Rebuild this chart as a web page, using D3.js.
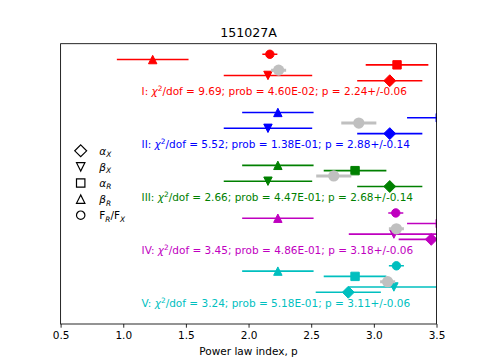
<!DOCTYPE html>
<html>
<head>
<meta charset="utf-8">
<script src="https://cdn.jsdelivr.net/npm/d3@7"></script>
<style>
  html, body { margin: 0; padding: 0; background: #fff; }
  svg { display: block; font-family: "DejaVu Sans", sans-serif; }
</style>
</head>
<body>
<svg id="chart" width="485" height="364"></svg>
<script>
// ---------------- data ----------------
const groups = ["I", "II", "III", "IV", "V"];
const colors = ["#ff0000", "#0000ff", "#008000", "#bf00bf", "#00bfbf"];

// F_R/F_X (circle)
const fluxRatio    = [2.17, null, null, 3.175, 3.18];
const fluxRatioErr = [0.06, null, null, 0.06, 0.06];
// beta_R (triangle up)
const betaR    = [1.235, 2.234, 2.234, 2.234, 2.234];
const betaRErr = [0.286, 0.285, 0.285, 0.285, 0.285];
// alpha_R (square)
const alphaR    = [3.185, 3.53, 2.85, 3.53, 2.85];
const alphaRErr = [0.25, 0.265, 0.25, 0.265, 0.25];
// fitted p (grey circle)
const pFit    = [2.24, 2.88, 2.68, 3.18, 3.11];
const pFitErr = [0.06, 0.14, 0.14, 0.06, 0.06];
// beta_X (triangle down)
const betaX    = [2.155, 2.155, 2.155, 3.16, 3.16];
const betaXErr = [0.353, 0.353, 0.353, 0.36, 0.36];
// alpha_X (diamond)
const alphaX    = [3.127, 3.127, 3.127, 3.458, 2.796];
const alphaXErr = [0.26, 0.26, 0.26, 0.26, 0.26];

// fit annotations
const chi2Dof = ["9.69", "5.52", "2.66", "3.45", "3.24"];
const probs   = ["4.60E-02", "1.38E-01", "4.47E-01", "4.86E-01", "5.18E-01"];
const pText   = ["2.24+/-0.06", "2.88+/-0.14", "2.68+/-0.14", "3.18+/-0.06", "3.11+/-0.06"];

const xTicks = [0.5, 1.0, 1.5, 2.0, 2.5, 3.0, 3.5];
const title = "151027A";
const xLabel = "Power law index, p";

(function () {
// ---------------- layout ----------------
const pL = 60.6, pR = 436.5, pT = 43.7, pB = 324;
const svg = d3.select("#chart");

const x = d3.scaleLinear().domain([0.5, 3.5]).range([pL, pR]);
const y = d3.scaleLinear().domain([-2, 51]).range([pT, pB]);

const ms = 4.2; // half marker size in px
const shapes = {
  circle: r => { const p = d3.path(); p.arc(0, 0, r, 0, 2 * Math.PI); p.closePath(); return p.toString(); },
  triUp: h => `M0,${-h}L${-h},${h}L${h},${h}Z`,
  triDown: h => `M0,${h}L${-h},${-h}L${h},${-h}Z`,
  square: h => `M${-h},${-h}L${h},${-h}L${h},${h}L${-h},${h}Z`,
  diamond: h => { const d = h * Math.SQRT2; return `M0,${-d}L${d},0L0,${d}L${-d},0Z`; }
};

svg.append("defs").append("clipPath").attr("id", "plotclip")
  .append("rect").attr("x", pL).attr("y", pT)
  .attr("width", pR - pL).attr("height", pB - pT);

const plot = svg.append("g").attr("clip-path", "url(#plotclip)");

const rows = [
  { vals: fluxRatio, errs: fluxRatioErr, shape: "circle", row: 0 },
  { vals: betaR, errs: betaRErr, shape: "triUp", row: 1 },
  { vals: alphaR, errs: alphaRErr, shape: "square", row: 2 },
  { vals: betaX, errs: betaXErr, shape: "triDown", row: 4 },
  { vals: alphaX, errs: alphaXErr, shape: "diamond", row: 5 }
];

groups.forEach((g, gi) => {
  const col = colors[gi];
  const gg = plot.append("g");
  rows.forEach(r => {
    const v = r.vals[gi];
    if (v == null) return;
    const e = r.errs[gi];
    const yy = y(gi * 10 + r.row);
    gg.append("line")
      .attr("x1", x(v - e)).attr("x2", x(v + e))
      .attr("y1", yy).attr("y2", yy)
      .attr("stroke", col).attr("stroke-width", 1.6);
    gg.append("path")
      .attr("d", shapes[r.shape](ms))
      .attr("transform", `translate(${x(v)},${yy})`)
      .attr("fill", col).attr("stroke", col).attr("stroke-width", 1);
  });
  // grey fitted p
  const yp = y(gi * 10 + 3);
  gg.append("line")
    .attr("x1", x(pFit[gi] - pFitErr[gi])).attr("x2", x(pFit[gi] + pFitErr[gi]))
    .attr("y1", yp).attr("y2", yp)
    .attr("stroke", "#c0c0c0").attr("stroke-width", 3);
  gg.append("circle")
    .attr("cx", x(pFit[gi])).attr("cy", yp).attr("r", 5.6)
    .attr("fill", "#c0c0c0");

  // annotation text
  const t = svg.append("text")
    .attr("x", x(1.146)).attr("y", y(gi * 10 + 7.75))
    .attr("fill", col).attr("font-size", 10.5);
  t.append("tspan").text(g + ": ");
  t.append("tspan").attr("font-style", "italic").text("χ");
  t.append("tspan").attr("font-size", 7.4).attr("dy", -4).text("2");
  t.append("tspan").attr("dy", 4).text(`/dof = ${chi2Dof[gi]}; prob = ${probs[gi]}; p = ${pText[gi]}`);
});

// ---------------- axes frame ----------------
svg.append("rect")
  .attr("x", pL).attr("y", pT)
  .attr("width", pR - pL).attr("height", pB - pT)
  .attr("fill", "none").attr("stroke", "#000").attr("stroke-width", 0.85);

const xAxis = d3.axisBottom(x).tickValues(xTicks).tickFormat(d3.format(".1f"))
  .tickSize(3.7).tickPadding(3.6);
const ax = svg.append("g").attr("transform", `translate(0,${pB})`).call(xAxis);
ax.select(".domain").remove();
ax.selectAll(".tick line").attr("stroke", "#000").attr("stroke-width", 0.85);
ax.selectAll(".tick text").attr("font-size", 10.5).attr("fill", "#000")
  .attr("font-family", "DejaVu Sans");

svg.append("text")
  .attr("x", (pL + pR) / 2).attr("y", 355)
  .attr("text-anchor", "middle").attr("font-size", 10.5).attr("fill", "#000")
  .text(xLabel);

svg.append("text")
  .attr("x", (pL + pR) / 2).attr("y", 37.4)
  .attr("text-anchor", "middle").attr("font-size", 12.6).attr("fill", "#000")
  .text(title);

// ---------------- legend ----------------
const legendItems = [
  { shape: "diamond", parts: [["α", "italic", 0], ["X", "italic", 1]] },
  { shape: "triDown", parts: [["β", "italic", 0], ["X", "italic", 1]] },
  { shape: "square", parts: [["α", "italic", 0], ["R", "italic", 1]] },
  { shape: "triUp", parts: [["β", "italic", 0], ["R", "italic", 1]] },
  { shape: "circle", parts: [["F", "normal", 0], ["R", "italic", 1], ["/F", "normal", 0], ["X", "italic", 1]] }
];
const legendY0 = 150.8, legendStep = 16.1;
legendItems.forEach((it, i) => {
  const ly = legendY0 + i * legendStep;
  svg.append("path")
    .attr("d", shapes[it.shape](ms))
    .attr("transform", `translate(80.7,${ly})`)
    .attr("fill", "#fff").attr("stroke", "#000").attr("stroke-width", 1.2);
  const t = svg.append("text").attr("x", 99.3).attr("y", ly + 3.8)
    .attr("font-size", 10.5).attr("fill", "#000");
  let prevSub = 0;
  it.parts.forEach(([s, st, sub]) => {
    const dy = (sub - prevSub) * 2.6;
    const ts = t.append("tspan").attr("font-style", st).text(s);
    if (dy !== 0) ts.attr("dy", dy);
    if (sub) ts.attr("font-size", 7.4);
    prevSub = sub;
  });
});
})();
</script>
</body>
</html>
